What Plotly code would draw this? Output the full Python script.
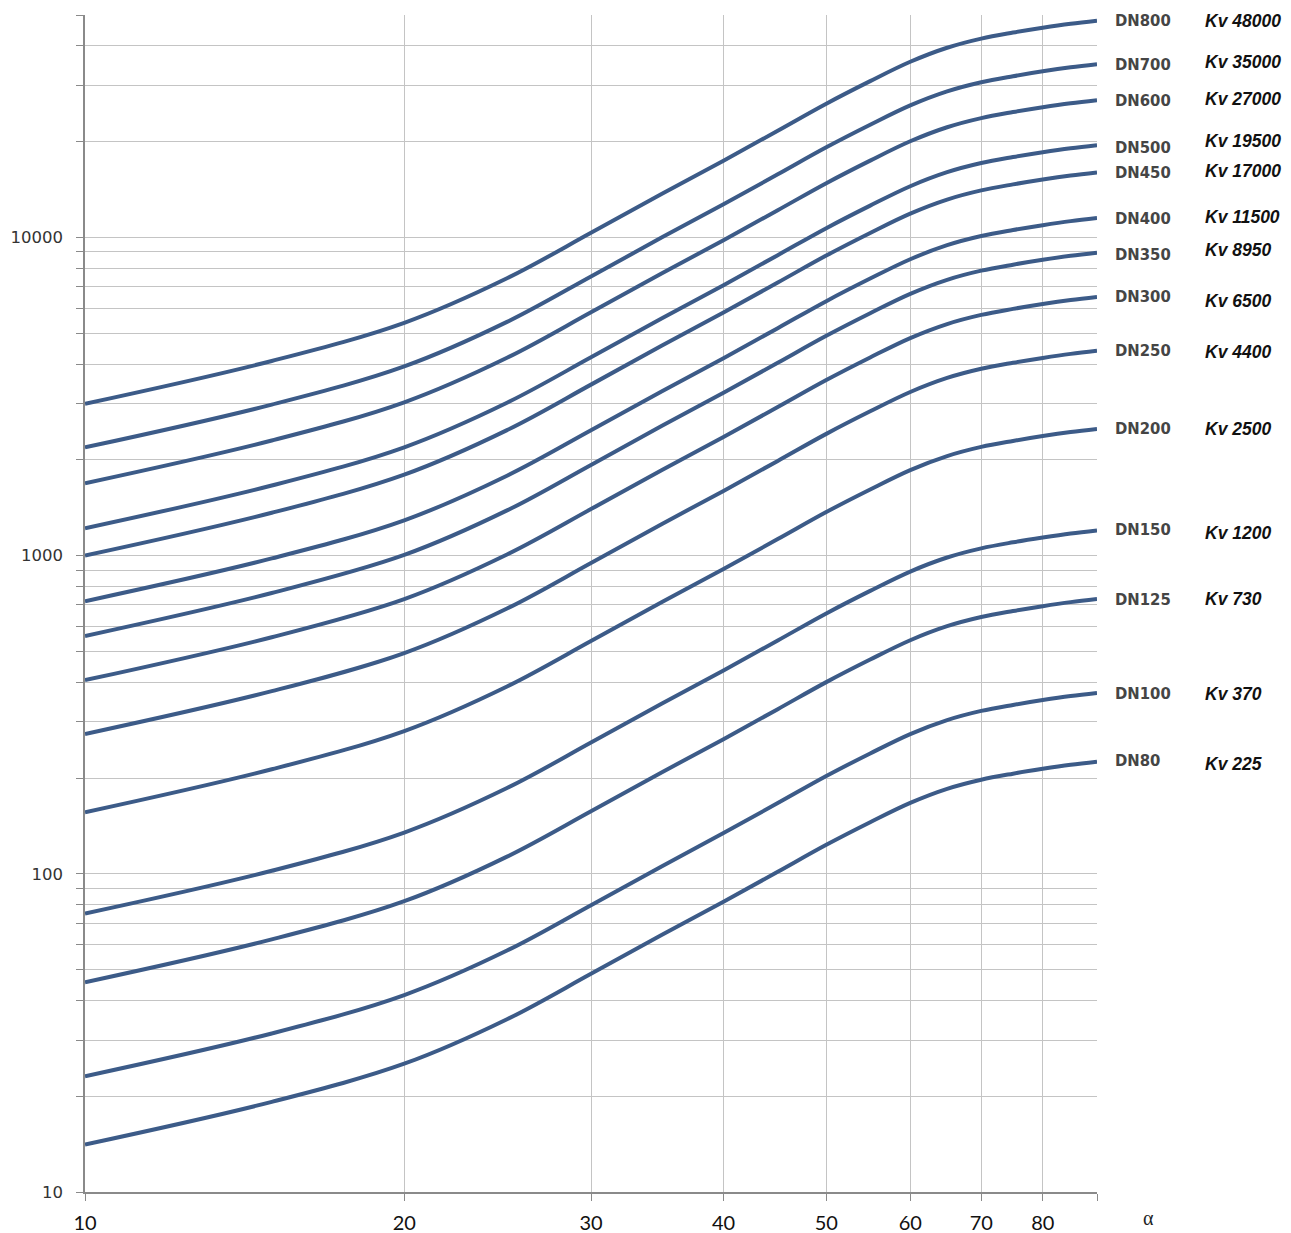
import math
import plotly.graph_objects as go

# Opening angle alpha (degrees) at which the curves were read
alpha = [10, 15, 20, 25, 30, 35, 40, 45, 50, 55, 60, 65, 70, 75, 80, 85, 90]

# Flow values for each valve size
dn80 = [14.1, 19.2, 25.3, 34.9, 48.5, 64.3, 81.7, 101.5, 123.4, 145.3, 167.1, 185.0, 197.6, 206.4, 213.8, 220.1, 225]
dn100 = [23.1, 31.5, 41.6, 57.4, 79.7, 105.7, 134.3, 166.8, 202.9, 238.9, 274.8, 304.1, 325.0, 339.4, 351.6, 362.0, 370]
dn125 = [45.6, 62.2, 82.0, 113.2, 157.2, 208.6, 264.9, 329.2, 400.3, 471.3, 542.1, 600.1, 641.2, 669.6, 693.7, 714.2, 730]
dn150 = [75.0, 102.2, 134.8, 186.0, 258.5, 343.0, 435.5, 541.1, 658.0, 774.7, 891.1, 986.4, 1054, 1101, 1140, 1174, 1200]
dn200 = [156, 213, 281, 388, 539, 715, 907, 1127, 1371, 1614, 1857, 2055, 2196, 2293, 2376, 2446, 2500]
dn250 = [275, 375, 494, 682, 948, 1258, 1597, 1984, 2413, 2841, 3267, 3617, 3865, 4036, 4181, 4305, 4400]
dn300 = [406, 554, 730, 1008, 1400, 1858, 2359, 2931, 3564, 4196, 4827, 5343, 5709, 5962, 6177, 6359, 6500]
dn350 = [559, 763, 1005, 1387, 1928, 2558, 3248, 4036, 4907, 5778, 6646, 7357, 7861, 8210, 8505, 8756, 8950]
dn400 = [719, 980, 1291, 1783, 2477, 3287, 4173, 5185, 6305, 7424, 8540, 9453, 10100, 10549, 10928, 11250, 11500]
dn450 = [1000, 1363, 1797, 2480, 3446, 4573, 5806, 7214, 8773, 10330, 11882, 13152, 14053, 14677, 15205, 15653, 16000]
dn500 = [1219, 1661, 2190, 3023, 4200, 5573, 7077, 8793, 10692, 12589, 14481, 16029, 17127, 17887, 18531, 19077, 19500]
dn600 = [1688, 2300, 3032, 4185, 5816, 7717, 9798, 12174, 14804, 17431, 20050, 22194, 23714, 24767, 25658, 26414, 27000]
dn700 = [2188, 2982, 3931, 5425, 7539, 10003, 12702, 15782, 19191, 22596, 25991, 28770, 30741, 32106, 33261, 34241, 35000]
dn800 = [3000, 4090, 5390, 7440, 10339, 13718, 17419, 21643, 26318, 30989, 35645, 39456, 42158, 44030, 45614, 46958, 48000]

series = [dn80, dn100, dn125, dn150, dn200, dn250, dn300, dn350, dn400, dn450, dn500, dn600, dn700, dn800]
dn_labels = ["DN80", "DN100", "DN125", "DN150", "DN200", "DN250", "DN300", "DN350",
             "DN400", "DN450", "DN500", "DN600", "DN700", "DN800"]
kv_labels = ["Kv 225", "Kv 370", "Kv 730", "Kv 1200", "Kv 2500", "Kv 4400", "Kv 6500", "Kv 8950",
             "Kv 11500", "Kv 17000", "Kv 19500", "Kv 27000", "Kv 35000", "Kv 48000"]
kv_shift = [-2, -1, 0, -3, 0, -1, -4, 3, 1, 1, 4, 1, 2, 0]
dn_shift = [1, 0, 0, 1, 0, 0, 0, -2, 0, 0, -2, 0, 0, 0]

x_ticks = [10, 20, 30, 40, 50, 60, 70, 80, 90]
x_ticktext = ["10", "20", "30", "40", "50", "60", "70", "80", ""]
y_ticks = [10, 100, 1000, 10000]
y_ticktext = ["10", "100", "1000", "10000"]
y_minor = [20, 30, 40, 50, 60, 70, 80, 90,
           200, 300, 400, 500, 600, 700, 800, 900,
           2000, 3000, 4000, 5000, 6000, 7000, 8000, 9000,
           20000, 30000, 40000, 50000]

LINE = "#3c5b88"
GRID = "#c4c4c4"
AXIS = "#8a8a8a"

fig = go.Figure()
for vals, name in zip(series, dn_labels):
    fig.add_trace(go.Scatter(x=alpha, y=vals, mode="lines", name=name,
                             line=dict(color=LINE, width=4, shape="spline", smoothing=1.0),
                             showlegend=False, hoverinfo="skip"))

annotations = []
for vals, dn, kv, ks, ds in zip(series, dn_labels, kv_labels, kv_shift, dn_shift):
    yv = math.log10(vals[-1])
    annotations.append(dict(x=1.0158, xref="paper", y=yv, yref="y", text=dn, showarrow=False,
                            xanchor="left", yanchor="middle", yshift=ds,
                            font=dict(family="DejaVu Sans Condensed, DejaVu Sans", size=16.5,
                                      color="#454545", weight="bold")))
    annotations.append(dict(x=1.1047, xref="paper", y=yv, yref="y", text=kv, showarrow=False,
                            xanchor="left", yanchor="middle", yshift=ks,
                            font=dict(family="Liberation Sans, Arial", size=17.5,
                                      color="#111111", weight="bold", style="italic")))
annotations.append(dict(x=1.0504, xref="paper", y=-0.022, yref="paper", text="α", showarrow=False,
                        xanchor="center", yanchor="middle",
                        font=dict(family="Liberation Serif", size=20, color="#222222")))

fig.update_layout(
    width=1283, height=1225,
    margin=dict(l=77, r=194, t=7, b=41, autoexpand=False),
    paper_bgcolor="white", plot_bgcolor="white",
    annotations=annotations,
    xaxis=dict(type="log", range=[1, math.log10(90)], automargin=False,
               tickvals=x_ticks, ticktext=x_ticktext,
               ticks="outside", ticklen=7, tickcolor=AXIS, tickwidth=1,
               showline=True, linecolor=AXIS, linewidth=1.5,
               showgrid=True, gridcolor=GRID, gridwidth=1,
               zeroline=False, ticklabelstandoff=5,
               tickfont=dict(family="Lato", size=20, color="#111111")),
    yaxis=dict(type="log", range=[1, math.log10(50000)], automargin=False,
               tickvals=y_ticks, ticktext=y_ticktext,
               ticks="outside", ticklen=7, tickcolor=AXIS, tickwidth=1,
               showline=True, linecolor=AXIS, linewidth=1.5,
               showgrid=True, gridcolor=GRID, gridwidth=1,
               zeroline=False, ticklabelstandoff=10,
               tickfont=dict(family="DejaVu Sans", size=16.5, color="#333333"),
               minor=dict(tickvals=y_minor, ticks="outside", ticklen=7, tickcolor=AXIS,
                          showgrid=True, gridcolor=GRID, gridwidth=1)),
)

fig.write_html("out.html")
